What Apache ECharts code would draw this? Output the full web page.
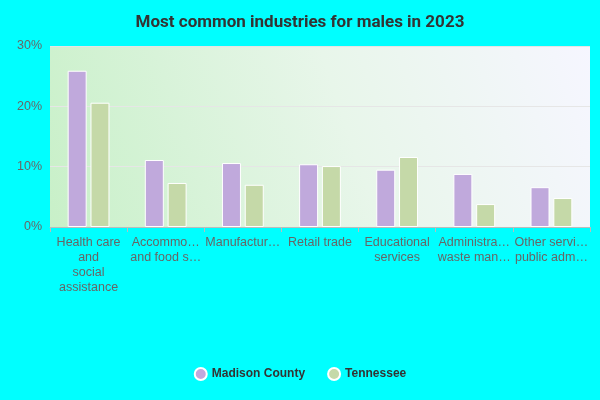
<!DOCTYPE html>
<html><head><meta charset="utf-8">
<script src="https://cdn.jsdelivr.net/npm/echarts@6/dist/echarts.min.js"></script>
<style>html,body{margin:0;padding:0;background:#00ffff}#c{width:600px;height:400px}</style>
</head><body><div id="c"></div>
<script>
const categories = ["Health care\nand\nsocial\nassistance","Accommo…\nand food s…","Manufactur…","Retail trade","Educational\nservices","Administra…\nwaste man…","Other servi…\npublic adm…"];
const madison = [25.9, 11.1, 10.6, 10.4, 9.5, 8.8, 6.6];
const tennessee = [20.6, 7.3, 7.0, 10.1, 11.6, 3.8, 4.8];
const yTicks = [0, 10, 20, 30];
const chart = echarts.init(document.getElementById('c'));
chart.setOption({
  backgroundColor: '#00ffff',
  title: {text: 'Most common industries for males in 2023', left: 'center', top: 9,
    textStyle: {fontSize: 17, fontWeight: 'bold', color: '#333', fontFamily: 'Roboto'}},
  legend: {bottom: 14, left: 'center', icon: 'circle', itemWidth: 12, itemHeight: 12, itemGap: 22,
    textStyle: {fontWeight: 'bold', color: '#333', fontSize: 12}},
  grid: {left: 50, right: 10, top: 46, bottom: 173,
    show: true, borderWidth: 0,
    backgroundColor: new echarts.graphic.LinearGradient(0, 1, 1, 0, [
      {offset: 0, color: '#c8f0c8'}, {offset: 0.55, color: '#e8f6ea'}, {offset: 1, color: '#f6f6ff'}])},
  xAxis: {type: 'category', data: categories,
    axisLine: {lineStyle: {color: '#bbb'}}, axisTick: {show: true, lineStyle: {color: '#bbb'}},
    axisLabel: {color: '#666', fontSize: 12.5, interval: 0, lineHeight: 15}},
  yAxis: {type: 'value', min: 0, max: 30, interval: 10,
    axisLabel: {formatter: v => yTicks.includes(v) ? v + '%' : '', color: '#666', fontSize: 12.5},
    splitLine: {lineStyle: {color: '#e6e6e6'}}},
  series: [
    {name: 'Madison County', type: 'bar', data: madison, barWidth: 19, barGap: '20%',
      itemStyle: {color: '#c0a9dc', borderColor: '#fff', borderWidth: 1}},
    {name: 'Tennessee', type: 'bar', data: tennessee, barWidth: 19,
      itemStyle: {color: '#c5d9a8', borderColor: '#fff', borderWidth: 1}}
  ]
});
</script></body></html>
